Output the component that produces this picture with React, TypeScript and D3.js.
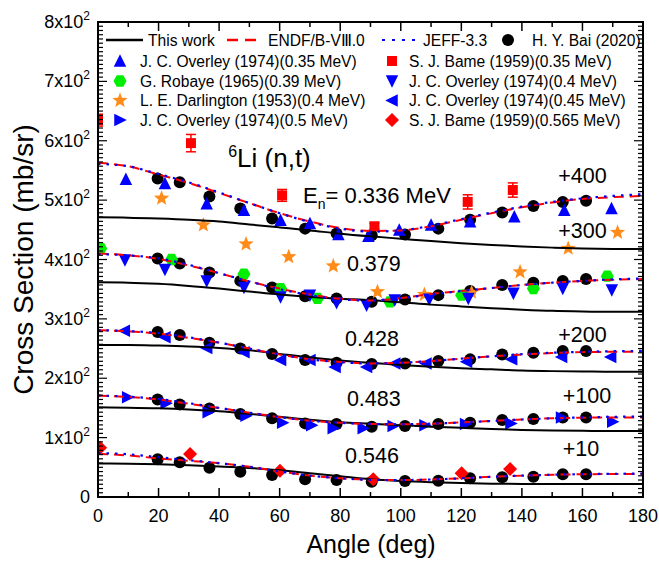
import React from 'react';
import * as d3 from 'd3';

const W = 659;
const H = 567;
const PLOT = { left: 98, right: 643, top: 22, bottom: 497 };
const FONT = "'Liberation Sans', Arial, Helvetica, sans-serif";

// ---------- data (values before the vertical offset of each group) ----------
const OFFSETS = [400, 300, 200, 100, 10];
const OFFSET_LABELS = ['+400', '+300', '+200', '+100', '+10'];
const OFFSET_LABEL_POS = [[152, 529], [152, 436], [152, 261], [153.5, 157.5], [153.5, 69]];
const ENERGY_LABELS = ['0.336', '0.379', '0.428', '0.483', '0.546'];
const ENERGY_LABEL_POS = [[67.7, 495], [82.2, 381], [81.6, 253.5], [82.2, 153], [81.6, 57.5]];
const TITLE_POS = [43, 556];

const MODEL_ANGLES = [0, 10, 20, 30, 40, 50, 60, 70, 80, 90, 100, 110, 120, 130, 140, 150, 160, 170, 180];

const THIS_WORK = [
  [71, 70.5, 69, 67, 64, 59, 54, 49, 43.5, 39, 35, 31, 27.5, 24.5, 22, 20, 18.5, 17.8, 17.5],
  [61.5, 61, 59, 55.5, 51, 46, 41, 37, 34, 31.5, 28, 24, 21, 18, 15.5, 13.5, 12.5, 12, 12],
  [56, 56, 55, 53.5, 51, 47, 41, 35, 30, 26, 22.5, 19.5, 17, 15, 13, 12, 11.5, 11, 11],
  [51, 50.5, 49.5, 47.5, 44.5, 40, 35, 30, 26, 23.5, 21, 18.5, 16.5, 14.5, 13, 12, 11.5, 11, 11],
  [46.5, 46, 45, 43.5, 41.5, 39, 35, 30, 25, 20, 17, 15, 13.5, 12.5, 12, 12, 12, 12, 12],
];

const ENDF = [
  [163, 157, 143, 129, 112, 95, 78, 64, 53, 48, 49, 56, 67, 78, 88, 96, 102, 105, 107],
  [110, 107, 101, 90, 77, 63, 51, 41, 34, 31, 35, 42, 47, 52, 57, 61, 64, 66, 67],
  [81, 79, 75, 68, 60, 50, 40, 32, 27.5, 25, 26, 29, 33, 37, 40, 42.5, 44, 44.5, 45],
  [70.5, 68.5, 64, 57, 50, 42, 34.5, 28.5, 25, 23, 22.5, 23.5, 25.5, 28, 30.5, 32.5, 33.5, 34, 34],
  [62.5, 60, 55, 51, 47, 41, 33, 26, 21.5, 19, 18.5, 19.5, 21.5, 24, 26, 27.5, 28.3, 28.6, 28.7],
];

const JEFF = [
  [161, 157, 144, 130, 113, 95, 78, 63, 52, 47, 49, 57, 68, 79, 89, 97, 103, 107, 110],
  [109, 107, 102, 91, 77, 63, 50, 40, 33, 31, 35, 41, 47, 52, 57, 61, 64, 66.5, 68],
  [81, 79.5, 76, 69, 60, 50, 40, 32, 27, 25, 26, 29, 33, 37, 40.5, 43, 44.5, 45.5, 46],
  [71, 69, 65, 58, 50, 42, 34.5, 28.5, 25, 23, 22.5, 23.5, 25.5, 28, 30.5, 32.5, 34, 35, 35.5],
  [64, 62, 57, 52, 47, 41, 33, 26, 21.5, 19, 18.5, 19.5, 21.5, 24, 26, 27.5, 28.5, 29, 29.5],
];

const BAI_ANGLES = [19.7, 27, 36.8, 47, 57.5, 68.4, 78.8, 90.4, 101.4, 112.4, 122.9, 133.5, 143.8, 153.5, 161.2];
const BAI = [
  [136.5, 130, 106, 86, 69, 52, 44, 41, 42, 52, 67, 79, 90, 97, 99],
  [101.7, 93.4, 78, 64, 53, 38, 34.5, 28.8, 32.8, 40, 47, 57, 60.8, 63.6, 67],
  [78, 72.7, 60, 50, 40.7, 30.6, 26, 24, 25, 29, 31.8, 40, 43, 45.8, 45.8],
  [64.4, 56, 49, 39.7, 32.5, 24, 23, 18.4, 19.5, 23, 25, 29.6, 31.3, 34, 34],
  [53.4, 48.4, 39.3, 32.6, 27, 19.8, 18.6, 15.8, 17, 17.4, 21.5, 23.2, 24.2, 28.2, 28.2],
];

const OVERLEY_035_ANGLES = [9.2, 22.1, 35.9, 48.2, 60.3, 70, 79.4, 89.3, 99.5, 110, 122.9, 137.5, 154, 169.6];
const OVERLEY_035 = [135, 128, 94, 83, 66, 60.8, 42, 39, 49.5, 58, 63.5, 72, 83, 86];

const OVERLEY_040_ANGLES = [8.9, 22.1, 35.9, 48.2, 60.3, 70, 78.8, 88.7, 98, 109.4, 122.3, 137.2, 153.5, 169.7];
const OVERLEY_040 = [99, 83, 64, 53, 37, 40, 27, 23, 31.6, 33, 34.5, 43, 51, 48.5];

const OVERLEY_045_ANGLES = [8.7, 22.1, 35.9, 48.2, 60.3, 70, 78.3, 88.7, 98, 108.3, 121.7, 136.6, 153.1, 169.3];
const OVERLEY_045 = [80, 69, 51, 43.6, 30.6, 30.6, 19, 19, 25, 25, 27.8, 31.8, 36, 36];

const OVERLEY_050_ANGLES = [9.8, 22.5, 36.4, 48.9, 61, 70.6, 77.7, 87.6, 97.5, 108, 121.4, 136.4, 153.1, 170];
const OVERLEY_050 = [67.8, 57.7, 42.6, 36.9, 25, 21, 15.7, 15.7, 19.5, 21, 23, 24, 34, 26.8];

const ROBAYE_ANGLES = [0.9, 24.3, 48.2, 60.3, 72.5, 96.4, 120.1, 143.8, 168.2];
const ROBAYE = [118.7, 100, 75.4, 51, 34.5, 28.8, 40, 51, 72];

const DARLINGTON_ANGLES = [21, 34.8, 48.9, 63, 77.7, 92.3, 107.8, 123.4, 139.4, 155.3, 171.6];
const DARLINGTON = [203, 158, 126, 104.5, 89, 45.6, 41, 44.6, 79, 118.7, 145.6];

const BAME_035_ANGLES = [0, 30.7, 60.8, 91.3, 122.1, 137];
const BAME_035 = [234.7, 196, 108, 56, 97, 117];
const BAME_035_ERR = [10, 14.6, 10, 5, 12, 12];

const BAME_0565_ANGLES = [0.7, 30.4, 60.1, 90.9, 120.1, 136.1];
const BAME_0565 = [73, 62.4, 34.3, 19.8, 29.9, 37];

const X_TICKS = [0, 20, 40, 60, 80, 100, 120, 140, 160, 180];
const Y_TICKS = [0, 100, 200, 300, 400, 500, 600, 700, 800];
const Y_TICK_MANTISSA = ['0', '1', '2', '3', '4', '5', '6', '7', '8'];

// ---------- styles ----------
const BLUE = '#0000ff';
const RED = '#ff0000';
const GREEN = '#00ee00';
const ORANGE = '#ff8c1a';

// ---------- marker shapes ----------
function triPath(dir: string, w = 12.5, h = 11.5) {
  const a = w / 2, b = h / 2;
  let pts: number[][] = [];
  if (dir === 'up') pts = [[0, -b - 1], [a, b], [-a, b]];
  if (dir === 'down') pts = [[0, b + 1], [a, -b], [-a, -b]];
  if (dir === 'left') pts = [[-b - 1, 0], [b, -a], [b, a]];
  if (dir === 'right') pts = [[b + 1, 0], [-b, -a], [-b, a]];
  return 'M' + pts.map(p => p.join(',')).join('L') + 'Z';
}
function hexPath(r = 6.5) {
  const pts = d3.range(6).map(i => {
    const t = (Math.PI / 3) * i;
    return [r * Math.cos(t), r * Math.sin(t)];
  });
  return 'M' + pts.map(p => p.join(',')).join('L') + 'Z';
}
function starPath(R = 8, r = 3.4) {
  const pts = d3.range(10).map(i => {
    const t = -Math.PI / 2 + (Math.PI / 5) * i;
    const rr = i % 2 === 0 ? R : r;
    return [rr * Math.cos(t), rr * Math.sin(t)];
  });
  return 'M' + pts.map(p => p.join(',')).join('L') + 'Z';
}
const squarePath = 'M-5,-5L5,-5L5,5L-5,5Z';
const diamondPath = 'M0,-7L7,0L0,7L-7,0Z';

function Marker({ kind, x, y }: { kind: string; x: number; y: number }) {
  const t = `translate(${x},${y})`;
  switch (kind) {
    case 'circle':
      return <circle cx={x} cy={y} r={6} fill="#000" />;
    case 'up':
    case 'down':
    case 'left':
    case 'right':
      return <path transform={t} d={triPath(kind)} fill={BLUE} />;
    case 'hex':
      return <path transform={t} d={hexPath()} fill={GREEN} />;
    case 'star':
      return <path transform={t} d={starPath()} fill={ORANGE} />;
    case 'square':
      return <path transform={t} d={squarePath} fill={RED} />;
    case 'diamond':
      return <path transform={t} d={diamondPath} fill={RED} />;
  }
  return null;
}

export default function App() {
  const x = d3.scaleLinear().domain([0, 180]).range([PLOT.left, PLOT.right]);
  const y = d3.scaleLinear().domain([0, 800]).range([PLOT.bottom, PLOT.top]);

  const lineFor = (off: number) =>
    d3
      .line<number>()
      .x((_, i) => x(MODEL_ANGLES[i]))
      .y(v => y(v + off))
      .curve(d3.curveMonotoneX);

  const scatter = (angles: number[], vals: number[], off: number, kind: string, key: string) =>
    angles.map((a, i) => <Marker key={key + i} kind={kind} x={x(a)} y={y(vals[i] + off)} />);

  const xMinor = d3.range(0, 181, 10);
  const yMinor = d3.range(0, 801, 100 / 14);

  const legendRows = [
    [
      { kind: 'circle', label: 'J. C. Overley (1974)(0.35 MeV)' },
    ],
  ];

  const col1 = [
    { kind: 'up', label: 'J. C. Overley (1974)(0.35 MeV)' },
    { kind: 'hex', label: 'G. Robaye (1965)(0.39 MeV)' },
    { kind: 'star', label: 'L. E. Darlington (1953)(0.4 MeV)' },
    { kind: 'right', label: 'J. C. Overley (1974)(0.5 MeV)' },
  ];
  const col2 = [
    { kind: 'square', label: 'S. J. Bame (1959)(0.35 MeV)' },
    { kind: 'down', label: 'J. C. Overley (1974)(0.4 MeV)' },
    { kind: 'left', label: 'J. C. Overley (1974)(0.45 MeV)' },
    { kind: 'diamond', label: 'S. J. Bame (1959)(0.565 MeV)' },
  ];
  const rowY = [61, 81, 100.5, 120];
  const legFont = 15.6;

  return (
    <svg
      width={W}
      height={H}
      style={{ position: 'absolute', left: 0, top: 0, background: '#fff' }}
      fontFamily={FONT}
    >
      <defs>
        <clipPath id="plotclip">
          <rect x={PLOT.left} y={PLOT.top} width={PLOT.right - PLOT.left} height={PLOT.bottom - PLOT.top} />
        </clipPath>
      </defs>
      <rect width={W} height={H} fill="#fff" />

      <g clipPath="url(#plotclip)">
        {/* scatter data */}
        {OFFSETS.map((off, g) => (
          <g key={'bai' + g}>{scatter(BAI_ANGLES, BAI[g], off, 'circle', 'b' + g)}</g>
        ))}
        {scatter(OVERLEY_035_ANGLES, OVERLEY_035, OFFSETS[0], 'up', 'o35')}
        {scatter(BAME_035_ANGLES, BAME_035, OFFSETS[0], 'square', 'bm35')}
        {BAME_035_ANGLES.map((a, i) => (
          <g key={'err' + i} stroke={RED} strokeWidth={1.5}>
            <line x1={x(a)} x2={x(a)} y1={y(BAME_035[i] + OFFSETS[0] - BAME_035_ERR[i])} y2={y(BAME_035[i] + OFFSETS[0] + BAME_035_ERR[i])} />
            <line x1={x(a) - 5} x2={x(a) + 5} y1={y(BAME_035[i] + OFFSETS[0] - BAME_035_ERR[i])} y2={y(BAME_035[i] + OFFSETS[0] - BAME_035_ERR[i])} />
            <line x1={x(a) - 5} x2={x(a) + 5} y1={y(BAME_035[i] + OFFSETS[0] + BAME_035_ERR[i])} y2={y(BAME_035[i] + OFFSETS[0] + BAME_035_ERR[i])} />
          </g>
        ))}
        {scatter(DARLINGTON_ANGLES, DARLINGTON, OFFSETS[1], 'star', 'dl')}
        {scatter(ROBAYE_ANGLES, ROBAYE, OFFSETS[1], 'hex', 'rb')}
        {scatter(OVERLEY_040_ANGLES, OVERLEY_040, OFFSETS[1], 'down', 'o40')}
        {scatter(OVERLEY_045_ANGLES, OVERLEY_045, OFFSETS[2], 'left', 'o45')}
        {scatter(OVERLEY_050_ANGLES, OVERLEY_050, OFFSETS[3], 'right', 'o50')}
        {scatter(BAME_0565_ANGLES, BAME_0565, OFFSETS[4], 'diamond', 'bm565')}

        {/* model curves */}
        {OFFSETS.map((off, g) => (
          <g key={'curves' + g} fill="none">
            <path d={lineFor(off)(THIS_WORK[g]) || ''} stroke="#000" strokeWidth={2} />
            <path d={lineFor(off)(ENDF[g]) || ''} stroke={RED} strokeWidth={2} strokeDasharray="10,6" />
            <path d={lineFor(off)(JEFF[g]) || ''} stroke={BLUE} strokeWidth={2.2} strokeDasharray="2.5,6" />
          </g>
        ))}
      </g>

      {/* frame */}
      <rect
        x={PLOT.left}
        y={PLOT.top}
        width={PLOT.right - PLOT.left}
        height={PLOT.bottom - PLOT.top}
        fill="none"
        stroke="#000"
        strokeWidth={2}
      />
      {/* x ticks bottom & top */}
      {xMinor.map(v => {
        const major = v % 20 === 0;
        const len = major ? 9 : 5;
        return (
          <g key={'xt' + v} stroke="#000" strokeWidth={1.5}>
            <line x1={x(v)} x2={x(v)} y1={PLOT.bottom} y2={PLOT.bottom - len} />
            <line x1={x(v)} x2={x(v)} y1={PLOT.top} y2={PLOT.top + len} />
          </g>
        );
      })}
      {/* y ticks left & right */}
      {yMinor.map((v, i) => {
        const major = i % 14 === 0;
        const len = major ? 9 : 5;
        return (
          <g key={'yt' + i} stroke="#000" strokeWidth={1.2}>
            <line x1={PLOT.left} x2={PLOT.left + len} y1={y(v)} y2={y(v)} />
            <line x1={PLOT.right} x2={PLOT.right - len} y1={y(v)} y2={y(v)} />
          </g>
        );
      })}

      {/* tick labels */}
      {X_TICKS.map(v => (
        <text key={'xl' + v} x={x(v)} y={PLOT.bottom + 25} textAnchor="middle" fontSize={18}>
          {v}
        </text>
      ))}
      {Y_TICKS.map((v, i) => (
        <text key={'yl' + v} x={PLOT.left - 8} y={y(v) + 6} textAnchor="end" fontSize={18}>
          {v === 0 ? (
            '0'
          ) : (
            <>
              <tspan>{Y_TICK_MANTISSA[i]}x10</tspan>
              <tspan dy={-8} fontSize={12}>2</tspan>
            </>
          )}
        </text>
      ))}

      {/* axis titles */}
      <text x={371} y={553} textAnchor="middle" fontSize={25}>
        Angle (deg)
      </text>
      <text transform={`translate(33,${(PLOT.top + PLOT.bottom) / 2}) rotate(-90)`} textAnchor="middle" fontSize={28}>
        Cross Section (mb/sr)
      </text>

      {/* annotations */}
      <text x={x(TITLE_POS[0])} y={y(TITLE_POS[1])} fontSize={26}>
        <tspan dy={-10} fontSize={16}>6</tspan>
        <tspan dy={10}>Li (n,t)</tspan>
      </text>
      {ENERGY_LABELS.map((lab, g) =>
        g === 0 ? (
          <text key={'el' + g} x={x(ENERGY_LABEL_POS[g][0])} y={y(ENERGY_LABEL_POS[g][1])} fontSize={22}>
            <tspan>E</tspan>
            <tspan dy={6} fontSize={14}>n</tspan>
            <tspan dy={-6}>{'= ' + lab + ' MeV'}</tspan>
          </text>
        ) : (
          <text key={'el' + g} x={x(ENERGY_LABEL_POS[g][0])} y={y(ENERGY_LABEL_POS[g][1])} fontSize={21.5}>
            {lab}
          </text>
        )
      )}
      {OFFSET_LABELS.map((lab, g) => (
        <text key={'ol' + g} x={x(OFFSET_LABEL_POS[g][0])} y={y(OFFSET_LABEL_POS[g][1])} fontSize={21.5}>
          {lab}
        </text>
      ))}

      {/* legend */}
      <g fontSize={legFont}>
        <line x1={106} x2={143} y1={40} y2={40} stroke="#000" strokeWidth={2.5} />
        <text x={148} y={45.5}>This work</text>
        <line x1={227} x2={256} y1={40} y2={40} stroke={RED} strokeWidth={2.5} strokeDasharray="11,7" />
        <text x={268} y={45.5}>ENDF/B-VⅢ.0</text>
        <line x1={382} x2={419} y1={40} y2={40} stroke={BLUE} strokeWidth={2.2} strokeDasharray="3,7" />
        <text x={423} y={45.5}>JEFF-3.3</text>
        <Marker kind="circle" x={508} y={40} />
        <text x={532} y={45.5}>H. Y. Bai (2020)</text>
        {col1.map((it, i) => (
          <g key={'lc1' + i}>
            <Marker kind={it.kind} x={120} y={rowY[i]} />
            <text x={140} y={rowY[i] + 5.5}>{it.label}</text>
          </g>
        ))}
        {col2.map((it, i) => (
          <g key={'lc2' + i}>
            <Marker kind={it.kind} x={392} y={rowY[i]} />
            <text x={409} y={rowY[i] + 5.5}>{it.label}</text>
          </g>
        ))}
      </g>
    </svg>
  );
}
